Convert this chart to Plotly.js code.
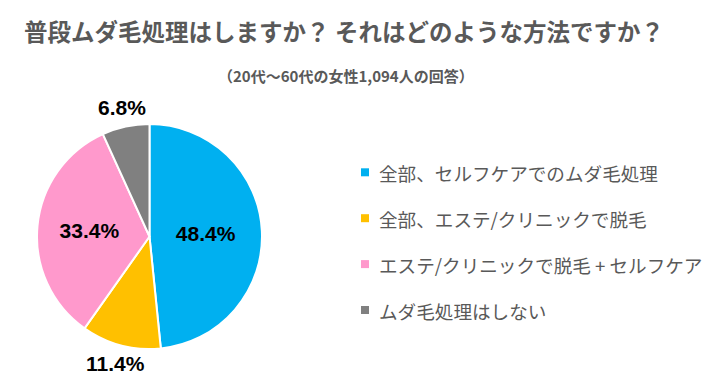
<!DOCTYPE html>
<html><head><meta charset="utf-8">
<script src="https://cdn.plot.ly/plotly-3.0.1.min.js"></script>
<style>html,body{margin:0;padding:0;background:#fff}#chart{width:723px;height:390px}</style>
</head><body><div id="chart"></div>
<script>
const categories = ["全部、セルフケアでのムダ毛処理", "全部、エステ/クリニックで脱毛", "エステ/クリニックで脱毛 + セルフケア", "ムダ毛処理はしない"];
const values = [48.4, 11.4, 33.4, 6.8];
const colors = ["#00B0F0", "#FFC000", "#FF99CC", "#808080"];
const insideLabel = [true, false, true, false];
const titleText = "普段ムダ毛処理はしますか？ それはどのような方法ですか？";
const subtitleText = "（20代～60代の女性1,094人の回答）";

const W = 723, H = 390;
const px = x => x / W, py = y => 1 - y / H;
const JP = '"Noto Sans CJK JP", "Noto Sans", sans-serif';
const NUMFONT = {family: '"Liberation Sans", Arial, sans-serif', size: 21, color: '#000000', weight: 'bold'};

// pie geometry (pixels)
const cx = 149.5, cy = 236.5, R = 112.5;
const labelTexts = values.map(v => v.toFixed(1) + '%');

const trace = {
  type: 'pie',
  values: values,
  labels: categories,
  marker: {colors: colors, line: {color: '#ffffff', width: 2}},
  sort: false,
  direction: 'clockwise',
  rotation: 0,
  textinfo: 'text',
  text: labelTexts.map((t, i) => insideLabel[i] ? t : ''),
  textposition: insideLabel.map(b => b ? 'inside' : 'none'),
  insidetextorientation: 'horizontal',
  textfont: NUMFONT,
  insidetextfont: NUMFONT,
  domain: {x: [px(cx - R), px(cx + R)], y: [py(cy + R), py(cy - R)]},
  showlegend: false,
  hoverinfo: 'label+percent'
};

const annotations = [{
  text: subtitleText, xref: 'paper', yref: 'paper', x: px(346), y: py(75),
  xanchor: 'center', yanchor: 'middle', showarrow: false,
  font: {family: JP, size: 15, color: '#595959', weight: 'bold'}
}];

// outside labels placed along each slice's mid-angle
const total = values.reduce((a, b) => a + b, 0);
let cum = 0;
values.forEach((v, i) => {
  const mid = (cum + v / 2) / total * 2 * Math.PI;
  cum += v;
  if (insideLabel[i]) return;
  const d = R * 1.17;
  annotations.push({text: labelTexts[i], xref: 'paper', yref: 'paper',
    x: px(cx + d * Math.sin(mid)), y: py(cy - d * Math.cos(mid)),
    xanchor: 'center', yanchor: 'middle', showarrow: false, font: NUMFONT});
});

const shapes = [];
const legendY0 = 172.3, legendStep = 45.9;
categories.forEach((c, i) => {
  const yc = legendY0 + i * legendStep;
  shapes.push({type: 'rect', xref: 'paper', yref: 'paper',
    x0: px(361), x1: px(369), y0: py(yc + 4), y1: py(yc - 4),
    fillcolor: colors[i], line: {width: 0}});
  annotations.push({text: c, xref: 'paper', yref: 'paper', x: px(377), y: py(yc),
    xanchor: 'left', yanchor: 'middle', showarrow: false,
    font: {family: JP, size: 18.6, color: '#595959'}});
});

const layout = {
  width: W, height: H,
  margin: {l: 0, r: 0, t: 0, b: 0},
  paper_bgcolor: '#ffffff',
  title: {text: titleText, x: px(344), y: py(33), xanchor: 'center', yanchor: 'middle',
    xref: 'paper', yref: 'container',
    font: {family: JP, size: 23.5, color: '#595959', weight: 'bold'}},
  annotations: annotations,
  shapes: shapes,
  showlegend: false
};
Plotly.newPlot('chart', [trace], layout, {displayModeBar: false, staticPlot: true});
</script></body></html>
